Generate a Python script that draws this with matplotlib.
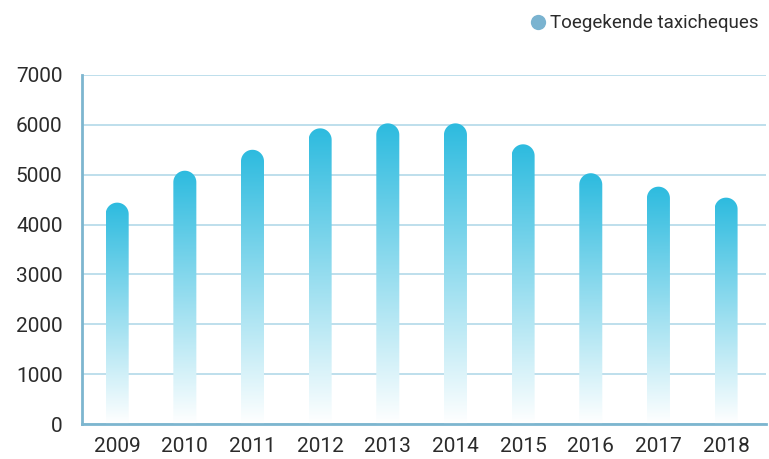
import numpy as np
import matplotlib
matplotlib.use('Agg')
import matplotlib.pyplot as plt
from matplotlib.path import Path
from matplotlib.patches import PathPatch
from matplotlib.lines import Line2D
from matplotlib.colors import to_rgb

# Toegekende taxicheques per jaar
jaren = ['2009', '2010', '2011', '2012', '2013', '2014', '2015', '2016', '2017', '2018']
taxicheques = [4440, 5080, 5500, 5930, 6030, 6030, 5610, 5030, 4760, 4540]
legenda_label = 'Toegekende taxicheques'

kleur_top = '#2dbbdf'
kleur_onder = '#ffffff'
kleur_as = '#7db6cf'
kleur_grid = '#b9dcea'
kleur_tekst = '#2b2b2b'

plt.rcParams['font.family'] = ['Roboto', 'DejaVu Sans']

fig = plt.figure(figsize=(7.69, 4.59), dpi=100)
ax = fig.add_axes([82 / 769, 35 / 459, 684 / 769, 349 / 459])
ax.set_xlim(-0.52, 9.59)
ax.set_ylim(0, 7000)

# pixels per data-eenheid, voor de ronde bovenkant van de staven
p0 = ax.transData.transform((0, 0))
p1 = ax.transData.transform((1, 1000))
px_x = p1[0] - p0[0]
px_y = (p1[1] - p0[1]) / 1000

breedte = 0.34
rx = breedte / 2
ry = rx * px_x / px_y

top_rgb = np.array(to_rgb(kleur_top))
onder_rgb = np.array(to_rgb(kleur_onder))
t = np.linspace(0, 1, 256)[:, None]
verloop = (onder_rgb * (1 - t) + top_rgb * t)[:, None, :]

for i, waarde in enumerate(taxicheques):
    x0, x1 = i - rx, i + rx
    hoek = np.linspace(0, np.pi, 40)
    boog = np.column_stack([i + rx * np.cos(hoek), waarde - ry + ry * np.sin(hoek)])
    punten = np.vstack([[x0, 0], [x1, 0], boog, [x0, 0]])
    codes = [Path.MOVETO] + [Path.LINETO] * (len(punten) - 2) + [Path.CLOSEPOLY]
    vorm = PathPatch(Path(punten, codes), facecolor='none', edgecolor='none')
    ax.add_patch(vorm)
    im = ax.imshow(verloop, extent=(x0, x1, 0, waarde), origin='lower',
                   aspect='auto', zorder=3, interpolation='bilinear')
    im.set_clip_path(vorm)

ax.set_xlim(-0.52, 9.59)
ax.set_ylim(0, 7000)

ax.set_xticks(range(len(jaren)))
ax.set_xticklabels(jaren)
ax.set_yticks(np.arange(0, 7001, 1000))
ax.tick_params(axis='both', length=0, labelsize=15, colors=kleur_tekst)
ax.tick_params(axis='y', pad=14)
ax.tick_params(axis='x', pad=9)

ax.grid(axis='y', color=kleur_grid, linewidth=1.3, zorder=0)
ax.set_axisbelow(True)
for kant in ['top', 'right']:
    ax.spines[kant].set_visible(False)
for kant in ['left', 'bottom']:
    ax.spines[kant].set_color(kleur_as)
    ax.spines[kant].set_linewidth(2)
    ax.spines[kant].set_zorder(4)

handle = Line2D([], [], marker='o', linestyle='none', markersize=11,
                markerfacecolor='#7ab3d0', markeredgecolor='none')
fig.legend([handle], [legenda_label], loc='upper right',
           bbox_to_anchor=(766 / 769, 1 - 7 / 459), frameon=False,
           fontsize=13.5, handletextpad=0.15, borderaxespad=0, handlelength=1,
           labelcolor=kleur_tekst)

fig.savefig('out.png', dpi=100)
